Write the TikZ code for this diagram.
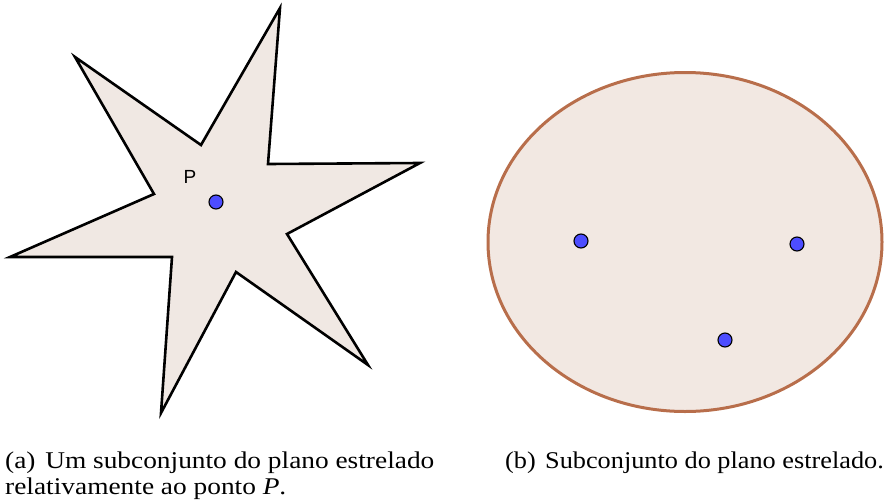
\documentclass[tikz,border=0pt]{standalone}
\usepackage{fontspec}
\setmainfont{Liberation Serif}
\newfontfamily\labelfont{Liberation Sans}
\definecolor{starfill}{RGB}{240,232,227}
\definecolor{ellfill}{RGB}{242,232,226}
\definecolor{ellline}{RGB}{184,110,75}
\definecolor{ptblue}{RGB}{77,77,255}
\begin{document}
\begin{tikzpicture}[x=1pt,y=-1pt,
  dotpt/.style={circle,draw=black,fill=ptblue,line width=1.1pt,minimum size=14pt,inner sep=0pt},
  captext/.style={anchor=base west,inner sep=0pt,font=\fontsize{24}{27}\selectfont,align=left,transform shape}]
\useasboundingbox (0,0) rectangle (884,501);
% star
\draw[fill=starfill,line width=2.6pt,line join=miter]
  (280,8) -- (268,164) -- (420,163) -- (287,234) -- (368,365) -- (236,272)
  -- (161,413) -- (172,257) -- (10,257) -- (154,194) -- (75,57) -- (201,145) -- cycle;
\node[dotpt] (P) at (216,202) {};
\node[font=\labelfont\fontsize{19}{19}\selectfont,inner sep=0pt] (Plab) at (190,177) {P};
% ellipse
\draw[fill=ellfill,draw=ellline,line width=3pt] (685,242) ellipse [x radius=197, y radius=169.5];
\node[dotpt] (A) at (581,241) {};
\node[dotpt] (B) at (797,244) {};
\node[dotpt] (C) at (725,340) {};
% captions
\node[captext,xscale=1.14] (capa) at (5,468) {(a)\hspace{8.5pt}Um subconjunto do plano estrelado};
\node[captext,xscale=1.14] (capa2) at (5,494) {relativamente ao ponto \textit{P}.};
\node[captext,xscale=1.095] (capb) at (505,468) {(b)\hspace{8.5pt}Subconjunto do plano estrelado.};
\end{tikzpicture}
\end{document}
